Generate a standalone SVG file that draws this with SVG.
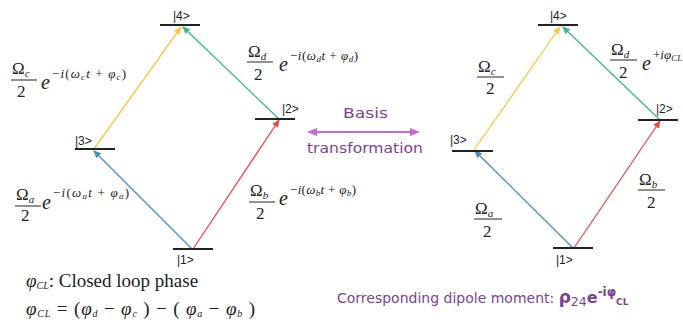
<svg xmlns="http://www.w3.org/2000/svg" width="683" height="326" viewBox="0 0 683 326">
<style>
.lvl{stroke:#222;stroke-width:2}
.lab{font-family:"Liberation Sans",Arial,sans-serif;font-size:12px;fill:#222}
.m{font-family:"Liberation Serif","Times New Roman",serif;fill:#222}
.om{font-size:17px}
.it{font-style:italic}
.sub{font-size:11px;font-style:italic}
.ex{font-size:13px}
.es{font-size:9px;font-style:italic}
.ee{font-size:20px;font-style:italic}
.fl{stroke:#222;stroke-width:1}
.ar{stroke-width:1.3;fill:none}
.pur{font-family:"DejaVu Sans",Verdana,sans-serif;fill:#7e3f93}
</style>
<defs>
<marker id="mY" markerWidth="8" markerHeight="8" refX="7" refY="4" orient="auto" markerUnits="userSpaceOnUse"><path d="M0,0.5 L8,4 L0,7.5 Z" fill="#f5c842"/></marker>
<marker id="mG" markerWidth="8" markerHeight="8" refX="7" refY="4" orient="auto" markerUnits="userSpaceOnUse"><path d="M0,0.5 L8,4 L0,7.5 Z" fill="#3cb88e"/></marker>
<marker id="mB" markerWidth="8" markerHeight="8" refX="7" refY="4" orient="auto" markerUnits="userSpaceOnUse"><path d="M0,0.5 L8,4 L0,7.5 Z" fill="#4a8cc4"/></marker>
<marker id="mR" markerWidth="8" markerHeight="8" refX="7" refY="4" orient="auto" markerUnits="userSpaceOnUse"><path d="M0,0.5 L8,4 L0,7.5 Z" fill="#f04848"/></marker>
<marker id="mP" markerWidth="10" markerHeight="10" refX="8" refY="5" orient="auto-start-reverse" markerUnits="userSpaceOnUse"><path d="M0,1 L10,5 L0,9 Z" fill="#c36ad3"/></marker>
</defs>

<g id="connectors">
<line class="ar" stroke="#f5c842" x1="94" y1="149" x2="181" y2="27" marker-end="url(#mY)"/>
<line class="ar" stroke="#3cb88e" x1="279" y1="119" x2="183" y2="27" marker-end="url(#mG)"/>
<line class="ar" stroke="#4a8cc4" x1="192" y1="249" x2="94" y2="151" marker-end="url(#mB)"/>
<line class="ar" stroke="#f04848" x1="193" y1="249" x2="279" y2="120" marker-end="url(#mR)"/>
<line class="ar" stroke="#f5c842" x1="474" y1="150" x2="560" y2="27" marker-end="url(#mY)"/>
<line class="ar" stroke="#3cb88e" x1="660" y1="120" x2="563" y2="27" marker-end="url(#mG)"/>
<line class="ar" stroke="#4a8cc4" x1="573" y1="248" x2="475" y2="151" marker-end="url(#mB)"/>
<line class="ar" stroke="#f04848" x1="574" y1="248" x2="660" y2="121" marker-end="url(#mR)"/>
<line stroke="#c36ad3" stroke-width="2" x1="309" y1="132" x2="418" y2="132" marker-start="url(#mP)" marker-end="url(#mP)"/>
</g>

<g id="L4"><line class="lvl" x1="160" y1="25" x2="200" y2="25"/><text class="lab" x="173" y="20">|4&gt;</text></g>
<g id="L2"><line class="lvl" x1="255" y1="119" x2="295" y2="119"/><text class="lab" x="282" y="113">|2&gt;</text></g>
<g id="L3"><line class="lvl" x1="75" y1="149" x2="115" y2="149"/><text class="lab" x="75" y="145">|3&gt;</text></g>
<g id="L1"><line class="lvl" x1="173" y1="249" x2="213" y2="249"/><text class="lab" x="177" y="264">|1&gt;</text></g>

<g id="R4"><line class="lvl" x1="538" y1="25" x2="578" y2="25"/><text class="lab" x="550" y="20">|4&gt;</text></g>
<g id="R2"><line class="lvl" x1="638" y1="120" x2="678" y2="120"/><text class="lab" x="656" y="113">|2&gt;</text></g>
<g id="R3"><line class="lvl" x1="452" y1="151" x2="493" y2="151"/><text class="lab" x="450" y="144">|3&gt;</text></g>
<g id="R1"><line class="lvl" x1="553" y1="248" x2="593" y2="248"/><text class="lab" x="556" y="264">|1&gt;</text></g>

<g id="labelLc" class="m">
<text class="om" x="12" y="74">Ω<tspan class="sub" dy="3">c</tspan></text>
<line class="fl" x1="11" y1="80" x2="37" y2="80"/>
<text class="om" x="17" y="97">2</text>
<text class="ee" x="41" y="89">e</text>
<text class="ex" x="52" y="78" textLength="74" lengthAdjust="spacing">−<tspan class="it">i</tspan>(<tspan class="it">ω</tspan><tspan class="es" dy="2">c</tspan><tspan class="it" dy="-2">t</tspan> + <tspan class="it">φ</tspan><tspan class="es" dy="2">c</tspan><tspan dy="-2">)</tspan></text>
</g>
<g id="labelLd" class="m">
<text class="om" x="248" y="57">Ω<tspan class="sub" dy="3">d</tspan></text>
<line class="fl" x1="247" y1="62" x2="273" y2="62"/>
<text class="om" x="254" y="80">2</text>
<text class="ee" x="279" y="71">e</text>
<text class="ex" x="290" y="60" textLength="68" lengthAdjust="spacing">−<tspan class="it">i</tspan>(<tspan class="it">ω</tspan><tspan class="es" dy="2">d</tspan><tspan class="it" dy="-2">t</tspan> + <tspan class="it">φ</tspan><tspan class="es" dy="2">d</tspan><tspan dy="-2">)</tspan></text>
</g>
<g id="labelLa" class="m">
<text class="om" x="16" y="200">Ω<tspan class="sub" dy="3">a</tspan></text>
<line class="fl" x1="15" y1="206" x2="41" y2="206"/>
<text class="om" x="21" y="221">2</text>
<text class="ee" x="42" y="209">e</text>
<text class="ex" x="53" y="197" textLength="76" lengthAdjust="spacing">−<tspan class="it">i</tspan>(<tspan class="it">ω</tspan><tspan class="es" dy="2">a</tspan><tspan class="it" dy="-2">t</tspan> + <tspan class="it">φ</tspan><tspan class="es" dy="2">a</tspan><tspan dy="-2">)</tspan></text>
</g>
<g id="labelLb" class="m">
<text class="om" x="250" y="196">Ω<tspan class="sub" dy="3">b</tspan></text>
<line class="fl" x1="249" y1="202" x2="275" y2="202"/>
<text class="om" x="256" y="219">2</text>
<text class="ee" x="279" y="205">e</text>
<text class="ex" x="290" y="194" textLength="66" lengthAdjust="spacing">−<tspan class="it">i</tspan>(<tspan class="it">ω</tspan><tspan class="es" dy="2">b</tspan><tspan class="it" dy="-2">t</tspan> + <tspan class="it">φ</tspan><tspan class="es" dy="2">b</tspan><tspan dy="-2">)</tspan></text>
</g>

<g id="labelRc" class="m">
<text class="om" x="478" y="72">Ω<tspan class="sub" dy="3">c</tspan></text>
<line class="fl" x1="477" y1="77" x2="504" y2="77"/>
<text class="om" x="486" y="94">2</text>
</g>
<g id="labelRd" class="m">
<text class="om" x="611" y="55">Ω<tspan class="sub" dy="3">d</tspan></text>
<line class="fl" x1="610" y1="60" x2="637" y2="60"/>
<text class="om" x="619" y="78">2</text>
<text class="ee" x="642" y="70">e</text>
<text class="ex" x="653" y="59">+<tspan class="it">iφ</tspan><tspan class="es" dy="2">CL</tspan></text>
</g>
<g id="labelRa" class="m">
<text class="om" x="475" y="214">Ω<tspan class="sub" dy="3">a</tspan></text>
<line class="fl" x1="474" y1="219" x2="502" y2="219"/>
<text class="om" x="483" y="237">2</text>
</g>
<g id="labelRb" class="m">
<text class="om" x="639" y="185">Ω<tspan class="sub" dy="3">b</tspan></text>
<line class="fl" x1="638" y1="190" x2="665" y2="190"/>
<text class="om" x="647" y="208">2</text>
</g>

<g id="basis">
<text class="pur" x="343" y="118" font-size="14.5" textLength="45" lengthAdjust="spacingAndGlyphs">Basis</text>
<text class="pur" x="307" y="153" font-size="14.5" textLength="116" lengthAdjust="spacingAndGlyphs">transformation</text>
</g>

<g id="phase" class="m">
<text x="26" y="287" font-size="19"><tspan class="it">φ</tspan><tspan font-size="10" class="it" dy="2">CL</tspan><tspan dy="-2">: Closed loop phase</tspan></text>
<text x="26" y="315" font-size="19" textLength="229" lengthAdjust="spacing"><tspan class="it">φ</tspan><tspan font-size="10" class="it" dy="2">CL</tspan><tspan dy="-2"> = (</tspan><tspan class="it">φ</tspan><tspan font-size="10" class="it" dy="2">d</tspan><tspan dy="-2"> − </tspan><tspan class="it">φ</tspan><tspan font-size="10" class="it" dy="2">c</tspan><tspan dy="-2"> ) − ( </tspan><tspan class="it">φ</tspan><tspan font-size="10" class="it" dy="2">a</tspan><tspan dy="-2"> − </tspan><tspan class="it">φ</tspan><tspan font-size="10" class="it" dy="2">b</tspan><tspan dy="-2"> )</tspan></text>
</g>

<g id="dipole">
<text class="pur" x="337" y="303" font-size="14"><tspan>Corresponding dipole moment: </tspan><tspan font-weight="bold" font-size="17">ρ</tspan><tspan font-size="12.5" dy="3">24</tspan><tspan font-weight="bold" font-size="16" dy="-3">e</tspan><tspan font-weight="bold" font-size="12" dy="-7">-iφ</tspan><tspan font-weight="bold" font-size="9" dy="9">CL</tspan></text>
</g>
</svg>
